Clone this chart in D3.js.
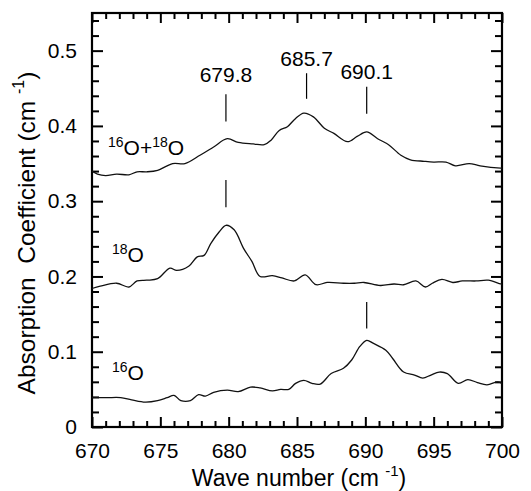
<!DOCTYPE html>
<html lang="en">
  <head>
    <meta charset="utf-8">
    <title>Absorption spectra</title>
    <style>
      body { margin: 0; background: #fff; }
      svg { display: block; font-family: "Liberation Sans", Arial, sans-serif; }
    </style>
  </head>
  <body>
    <script src="https://cdn.jsdelivr.net/npm/d3@7"></script>
    <script>
      // 16O + 18O mixed sample (top trace)
      var mixWave = [670.0, 670.4, 671.0, 671.8, 672.7, 673.3, 674.0, 674.8, 675.9, 676.8, 677.9, 678.9, 679.9,
                     680.7, 681.8, 682.6, 683.1, 683.7, 684.3, 684.9, 685.5, 686.2, 687.0, 687.7, 688.7, 689.4,
                     690.1, 690.9, 691.7, 692.6, 693.3, 694.3, 695.0, 695.9, 696.6, 697.6, 698.4, 699.9, 700.0];
      var mixVal  = [0.340, 0.336, 0.334, 0.336, 0.335, 0.339, 0.339, 0.341, 0.350, 0.350, 0.361, 0.372, 0.383,
                     0.378, 0.376, 0.375, 0.381, 0.394, 0.399, 0.410, 0.417, 0.412, 0.397, 0.390, 0.379, 0.386,
                     0.392, 0.383, 0.375, 0.361, 0.355, 0.353, 0.352, 0.352, 0.347, 0.350, 0.347, 0.344, 0.344];

      // 18O sample (middle trace)
      var o18Wave = [670.0, 670.6, 671.8, 672.7, 673.3, 674.0, 674.8, 675.7, 676.2, 677.1, 677.7, 678.2, 678.7,
                     679.3, 679.8, 680.4, 681.1, 681.7, 682.3, 683.2, 683.9, 684.8, 685.6, 686.4, 687.2, 688.4,
                     689.2, 689.9, 691.1, 692.1, 692.8, 693.7, 694.4, 694.9, 695.6, 696.4, 697.1, 698.1, 699.0,
                     699.9, 700.0];
      var o18Val  = [0.184, 0.187, 0.191, 0.186, 0.194, 0.195, 0.197, 0.211, 0.208, 0.214, 0.226, 0.228, 0.244,
                     0.259, 0.268, 0.262, 0.237, 0.220, 0.200, 0.201, 0.198, 0.194, 0.202, 0.189, 0.192, 0.191,
                     0.191, 0.192, 0.188, 0.190, 0.189, 0.194, 0.186, 0.191, 0.196, 0.192, 0.194, 0.194, 0.195,
                     0.190, 0.190];

      // 16O sample (bottom trace)
      var o16Wave = [670.0, 671.1, 672.1, 672.9, 673.9, 674.8, 675.5, 676.0, 676.5, 677.2, 677.8, 678.3, 678.9,
                     679.9, 680.7, 681.6, 682.3, 683.2, 683.8, 684.4, 684.9, 685.5, 686.1, 686.7, 687.5, 688.4,
                     689.0, 689.6, 690.1, 690.6, 691.5, 692.0, 692.8, 693.6, 694.2, 694.8, 695.4, 696.0, 696.8,
                     697.5, 698.2, 698.9, 699.7, 700.0];
      var o16Val  = [0.039, 0.039, 0.039, 0.036, 0.033, 0.035, 0.039, 0.042, 0.035, 0.035, 0.043, 0.041, 0.046,
                     0.049, 0.047, 0.053, 0.052, 0.048, 0.050, 0.050, 0.058, 0.062, 0.058, 0.057, 0.071, 0.078,
                     0.089, 0.107, 0.115, 0.111, 0.102, 0.091, 0.073, 0.069, 0.065, 0.069, 0.073, 0.071, 0.058,
                     0.063, 0.059, 0.056, 0.060, 0.058];

      // peak markers: position, line bottom, line top
      var markWave = [679.8, 685.7, 690.1, 679.8, 690.1];
      var markLow  = [0.406, 0.436, 0.416, 0.292, 0.131];
      var markHigh = [0.442, 0.470, 0.452, 0.328, 0.166];
      var peakLabels = ["679.8", "685.7", "690.1"];
      var peakLabelY = [0.458, 0.480, 0.462];

      var xTicks = [670, 675, 680, 685, 690, 695, 700];
      var yTicks = [0, 0.1, 0.2, 0.3, 0.4, 0.5];

      var width = 531, height = 491;
      var margin = {top: 13, right: 29, bottom: 64, left: 92};

      var x = d3.scaleLinear().domain([670, 700]).range([margin.left, width - margin.right]);
      var y = d3.scaleLinear().domain([0, 0.55]).range([height - margin.bottom, margin.top]);

      var svg = d3.select("body").append("svg")
          .attr("width", width)
          .attr("height", height)
          .attr("viewBox", [0, 0, width, height]);

      var xMinor = d3.range(670, 701, 1).filter(d => d % 5 !== 0);
      var yMinor = d3.range(0, 56, 2).map(d => d / 100).filter(d => Math.round(d * 100) % 10 !== 0);

      function styleAxis(g) {
        g.select(".domain").remove();
        g.selectAll(".tick line").attr("stroke", "#000").attr("stroke-width", 2);
        g.selectAll(".tick text").attr("fill", "#000").attr("font-size", 21);
      }

      // bottom
      svg.append("g").attr("transform", `translate(0,${y(0)})`)
          .call(d3.axisBottom(x).tickValues(xTicks).tickSizeInner(-10).tickSizeOuter(0).tickPadding(16).tickFormat(d3.format("d")))
          .call(styleAxis);
      svg.append("g").attr("transform", `translate(0,${y(0)})`)
          .call(d3.axisBottom(x).tickValues(xMinor).tickSizeInner(-6).tickSizeOuter(0).tickFormat(""))
          .call(styleAxis);
      // top
      svg.append("g").attr("transform", `translate(0,${y(0.55)})`)
          .call(d3.axisTop(x).tickValues(xTicks).tickSizeInner(-10).tickSizeOuter(0).tickFormat(""))
          .call(styleAxis);
      svg.append("g").attr("transform", `translate(0,${y(0.55)})`)
          .call(d3.axisTop(x).tickValues(xMinor).tickSizeInner(-6).tickSizeOuter(0).tickFormat(""))
          .call(styleAxis);
      // left
      svg.append("g").attr("transform", `translate(${x(670)},0)`)
          .call(d3.axisLeft(y).tickValues(yTicks).tickSizeInner(-11).tickSizeOuter(0).tickPadding(15)
                .tickFormat(d => d === 0 ? "0" : d3.format(".1f")(d)))
          .call(styleAxis);
      svg.append("g").attr("transform", `translate(${x(670)},0)`)
          .call(d3.axisLeft(y).tickValues(yMinor).tickSizeInner(-7).tickSizeOuter(0).tickFormat(""))
          .call(styleAxis);
      // right
      svg.append("g").attr("transform", `translate(${x(700)},0)`)
          .call(d3.axisRight(y).tickValues(yTicks).tickSizeInner(-11).tickSizeOuter(0).tickFormat(""))
          .call(styleAxis);
      svg.append("g").attr("transform", `translate(${x(700)},0)`)
          .call(d3.axisRight(y).tickValues(yMinor).tickSizeInner(-7).tickSizeOuter(0).tickFormat(""))
          .call(styleAxis);

      // frame
      svg.append("rect")
          .attr("x", x(670)).attr("y", y(0.55))
          .attr("width", x(700) - x(670)).attr("height", y(0) - y(0.55))
          .attr("fill", "none").attr("stroke", "#000").attr("stroke-width", 2.2);

      // traces
      var line = d3.line().x(d => x(d[0])).y(d => y(d[1])).curve(d3.curveCatmullRom.alpha(0.5));
      [[mixWave, mixVal], [o18Wave, o18Val], [o16Wave, o16Val]].forEach(function(s) {
        svg.append("path")
            .datum(d3.zip(s[0], s[1]))
            .attr("fill", "none")
            .attr("stroke", "#111")
            .attr("stroke-width", 1.3)
            .attr("d", line);
      });

      // peak markers
      svg.append("g").selectAll("line")
          .data(markWave)
          .join("line")
          .attr("x1", d => x(d)).attr("x2", d => x(d))
          .attr("y1", (d, i) => y(markLow[i])).attr("y2", (d, i) => y(markHigh[i]))
          .attr("stroke", "#000").attr("stroke-width", 1.2);

      svg.append("g").selectAll("text")
          .data(peakLabels)
          .join("text")
          .attr("x", (d, i) => x(markWave[i]))
          .attr("y", (d, i) => y(peakLabelY[i]))
          .attr("text-anchor", "middle")
          .attr("font-size", 21)
          .text(d => d);

      // sample labels
      function isoLabel(px, py, parts) {
        var t = svg.append("text").attr("x", px).attr("y", py).attr("font-size", 21);
        parts.forEach(function(p) {
          if (p.sup) {
            t.append("tspan").attr("font-size", 14).attr("dy", -8).text(p.t);
          } else {
            t.append("tspan").attr("dy", p.after ? 8 : 0).text(p.t);
          }
        });
      }
      isoLabel(108, 155, [{t: "16", sup: true}, {t: "O+", after: true}, {t: "18", sup: true}, {t: "O", after: true}]);
      isoLabel(112, 262, [{t: "18", sup: true}, {t: "O", after: true}]);
      isoLabel(112, 380, [{t: "16", sup: true}, {t: "O", after: true}]);

      // axis titles
      var xt = svg.append("text")
          .attr("x", 299)
          .attr("y", 486)
          .attr("text-anchor", "middle")
          .attr("font-size", 23);
      xt.append("tspan").text("Wave number (cm ");
      xt.append("tspan").attr("font-size", 15).attr("dy", -10).text("-1");
      xt.append("tspan").attr("dy", 10).text(")");

      var yt = svg.append("text")
          .attr("transform", "translate(35,233) rotate(-90)")
          .attr("text-anchor", "middle")
          .attr("font-size", 24.5)
          .attr("xml:space", "preserve");
      yt.append("tspan").text("Absorption  Coefficient (cm ");
      yt.append("tspan").attr("font-size", 16).attr("dy", -11).text("-1");
      yt.append("tspan").attr("dy", 11).text(")");
    </script>
  </body>
</html>
